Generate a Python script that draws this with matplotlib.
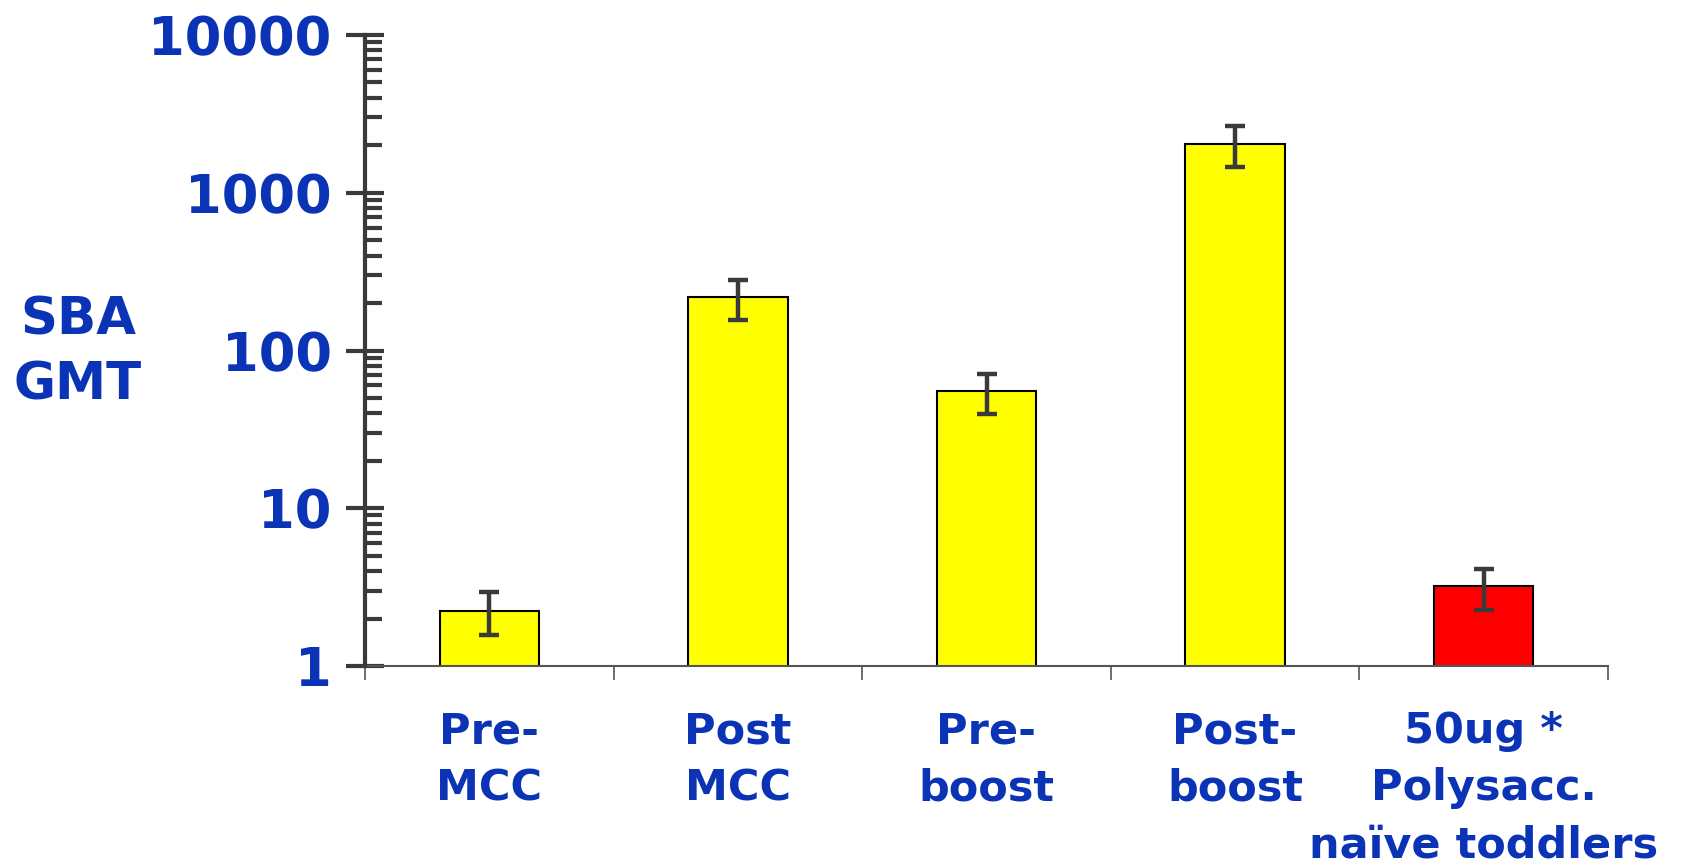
import matplotlib
matplotlib.use("Agg")
import matplotlib.pyplot as plt
import numpy as np
from matplotlib.ticker import LogLocator, NullFormatter, FixedLocator

# Serum bactericidal antibody geometric mean titres by group
categories = ["Pre-\nMCC", "Post\nMCC", "Pre-\nboost", "Post-\nboost",
              "50ug *\nPolysacc.\nnaïve toddlers"]
gmt = [2.24, 219, 55, 2030, 3.22]
ci_low = [1.58, 157, 39.7, 1455, 2.27]
ci_high = [2.93, 281, 71, 2650, 4.14]
bar_colors = ["#ffff00", "#ffff00", "#ffff00", "#ffff00", "#ff0000"]
ytick_values = [1, 10, 100, 1000, 10000]
ytick_labels = ["1", "10", "100", "1000", "10000"]

blue = "#0b33b5"
dark = "#3a3a3a"

fig = plt.figure(figsize=(16.91, 8.68), dpi=100)
ax = fig.add_axes([365 / 1691, 1 - 666 / 868, (1608 - 365) / 1691, (666 - 35) / 868])

x = np.arange(len(categories))
ax.bar(x, gmt, width=0.4, color=bar_colors, edgecolor="black", linewidth=1.5, zorder=2)
yerr = np.array([np.subtract(gmt, ci_low), np.subtract(ci_high, gmt)])
ax.errorbar(x, gmt, yerr=yerr, fmt="none", ecolor=dark, elinewidth=3.2,
            capsize=7, capthick=3.2, zorder=3)

ax.set_yscale("log")
ax.set_ylim(1, 10000)
ax.set_xlim(-0.5, len(categories) - 0.5)

for side in ("top", "right"):
    ax.spines[side].set_visible(False)
ax.spines["left"].set_color(dark)
ax.spines["left"].set_linewidth(3)
ax.spines["bottom"].set_color("#555555")
ax.spines["bottom"].set_linewidth(1.5)
ax.spines["left"].set_zorder(4)

# y axis: crossing major ticks, inward minor ticks
ax.yaxis.set_major_locator(FixedLocator(ytick_values))
ax.set_yticklabels(ytick_labels)
ax.yaxis.set_minor_locator(LogLocator(base=10, subs=np.arange(2, 10)))
ax.yaxis.set_minor_formatter(NullFormatter())
ax.tick_params(axis="y", which="major", direction="inout", length=28, width=3,
               color=dark, labelsize=38, labelcolor=blue, pad=10)
ax.tick_params(axis="y", which="minor", direction="in", length=12, width=3, color=dark)
for lab in ax.get_yticklabels():
    lab.set_fontweight("bold")

# x axis: boundary ticks, group labels centred below
ax.set_xticks(np.arange(len(categories) + 1) - 0.5)
ax.set_xticklabels([])
ax.tick_params(axis="x", which="major", direction="out", length=10, width=1.2, color="#555555")
for xi, lab in zip(x, categories):
    ax.annotate(lab, xy=(xi, 0), xycoords=("data", "axes fraction"),
                xytext=(0, -32), textcoords="offset points", ha="center", va="top",
                fontsize=31, fontweight="bold", color=blue, linespacing=1.45)

fig.text(78 / 1691, 1 - 353 / 868, "SBA\nGMT", ha="center", va="center",
         fontsize=37, fontweight="bold", color=blue, linespacing=1.4)

fig.savefig("out.png", dpi=100, facecolor="white")
